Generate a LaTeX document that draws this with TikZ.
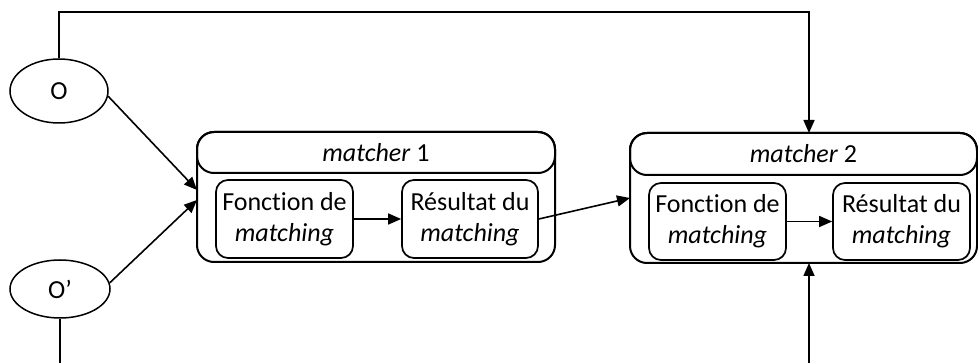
\documentclass[tikz,border=0pt]{standalone}
\usepackage{fontspec}
\setmainfont[Ligatures={NoCommon}]{Carlito}
\usetikzlibrary{shapes.geometric,arrows.meta}
\begin{document}
\begin{tikzpicture}[x=1pt,y=-1pt,
  every node/.style={font=\fontsize{26}{31}\selectfont, inner sep=0pt, align=center},
  ell/.style={ellipse, draw, line width=1.5pt},
  outerbox/.style={draw, line width=2pt, rounded corners=17pt},
  headbox/.style={draw, line width=2pt, rounded corners=17pt},
  innerbox/.style={draw, line width=1.7pt, rounded corners=12pt, minimum width=137pt, minimum height=78pt},
  conn/.style={line width=1.6pt},
  arr/.style={conn, -{Triangle[length=13pt,width=11pt]}}
]
\clip (0,0) rectangle (978,363);
% ellipses
\node[ell, minimum width=98pt, minimum height=64pt] (O) at (59,91) {O};
\node[ell, minimum width=100pt, minimum height=58pt] (Op) at (60,289) {O’};
% matcher 1
\node[outerbox, minimum width=358pt, minimum height=130pt] (m1) at (376,197) {};
\node[headbox, minimum width=358pt, minimum height=41pt] (h1) at (376,152.5) {\textit{matcher} 1};
\node[innerbox] (f1) at (284.5,219) {Fonction de\\\textit{matching}};
\node[innerbox, minimum width=136pt] (r1) at (470,219) {Résultat du\\\textit{matching}};
% matcher 2
\node[outerbox, minimum width=347pt, minimum height=130pt] (m2) at (803.5,198) {};
\node[headbox, minimum width=347pt, minimum height=42pt] (h2) at (803.5,154) {\textit{matcher} 2};
\node[innerbox, minimum height=77pt] (f2) at (717.5,221.5) {Fonction de\\\textit{matching}};
\node[innerbox, minimum height=77pt] (r2) at (901.5,221.5) {Résultat du\\\textit{matching}};
% coordinates
\coordinate (m1a) at (197,190);
\coordinate (m1b) at (197,200);
\coordinate (m2a) at (630,198);
\coordinate (m2top) at (809,133);
\coordinate (m2bot) at (809,263);
\coordinate (topc) at (809,12);
\coordinate (botO) at (60,370);
\coordinate (botM) at (809,370);
% connectors
\draw[arr] (O.-6) -- (m1a);
\draw[arr] (Op.7) -- (m1b);
\draw[arr] (f1.east) -- (r1.west);
\draw[arr] (f2.east) -- (r2.west);
\draw[arr] (r1.east) -- (m2a);
\draw[arr] (O.north) |- (topc) -- (m2top);
\draw[conn] (Op.south) -- (botO);
\draw[arr] (botM) -- (m2bot);
\end{tikzpicture}
\end{document}
